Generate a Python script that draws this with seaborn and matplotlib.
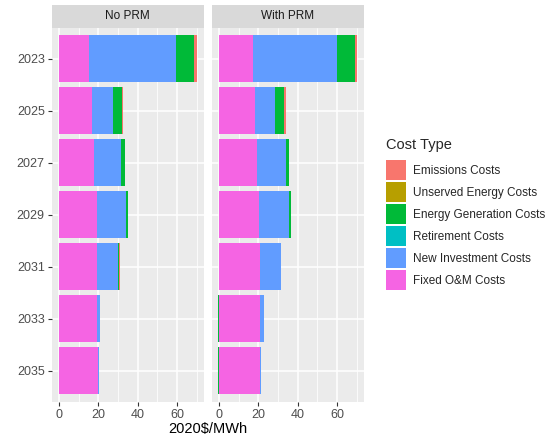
import numpy as np
import pandas as pd
import matplotlib
matplotlib.use("Agg")
import matplotlib.pyplot as plt
import seaborn as sns
from matplotlib.patches import Patch
from matplotlib.ticker import FixedLocator

years = ["2023", "2025", "2027", "2029", "2031", "2033", "2035"]
scenarios = ["No PRM", "With PRM"]
cost_types = ["Emissions Costs", "Unserved Energy Costs", "Energy Generation Costs",
              "Retirement Costs", "New Investment Costs", "Fixed O&M Costs"]
cost_colors = ["#F8766D", "#B79F00", "#00BA38", "#00BFC4", "#619CFF", "#F564E3"]

# No PRM
noprm_emissions = [1.4, 0.8, 0.4, 0.1, 0.05, 0.0, 0.0]
noprm_unserved = [0.0, 0.0, 0.0, 0.0, 0.0, 0.0, 0.0]
noprm_energy_gen = [9.3, 4.4, 1.6, 1.2, 0.7, 0.1, 0.05]
noprm_retirement = [0.0, 0.0, 0.0, 0.0, 0.0, 0.0, 0.0]
noprm_new_invest = [43.9, 10.9, 13.7, 14.8, 10.8, 1.3, 0.4]
noprm_fixed_om = [15.4, 16.6, 18.0, 19.2, 19.2, 19.5, 19.7]

# With PRM
prm_emissions = [1.2, 0.8, 0.2, 0.1, 0.0, 0.0, 0.0]
prm_unserved = [0.0, 0.0, 0.0, 0.0, 0.0, 0.0, 0.0]
prm_energy_gen = [9.0, 4.6, 1.6, 1.0, 0.2, -0.4, -0.4]
prm_retirement = [0.0, 0.0, 0.0, 0.0, 0.0, 0.0, 0.0]
prm_new_invest = [42.8, 10.5, 14.8, 15.0, 10.5, 2.2, 0.3]
prm_fixed_om = [17.3, 18.1, 19.1, 20.5, 20.8, 20.6, 20.8]

series = {
    "No PRM": [noprm_emissions, noprm_unserved, noprm_energy_gen,
               noprm_retirement, noprm_new_invest, noprm_fixed_om],
    "With PRM": [prm_emissions, prm_unserved, prm_energy_gen,
                 prm_retirement, prm_new_invest, prm_fixed_om],
}

rows = []
for sc in scenarios:
    for ct, vals in zip(cost_types, series[sc]):
        for y, v in zip(years, vals):
            rows.append({"scenario": sc, "year": y, "cost": ct, "value": v})
df = pd.DataFrame(rows)

sns.set_theme(style="darkgrid")
plt.rcParams["font.family"] = ["Liberation Sans", "DejaVu Sans"]

W, H = 545, 436
fig = plt.figure(figsize=(W / 100, H / 100), dpi=100)

panel_top, panel_bot = 27.7, 401.7
panels_x = [(51.7, 204.0), (211.7, 364.0)]
strip_top = 5.0

base_order = cost_types[::-1]  # stacking from zero outward
color_map = dict(zip(cost_types, cost_colors))

axes = []
for i, sc in enumerate(scenarios):
    x0, x1 = panels_x[i]
    ax = fig.add_axes([x0 / W, 1 - panel_bot / H, (x1 - x0) / W, (panel_bot - panel_top) / H])
    axes.append(ax)
    ax.set_facecolor("#EBEBEB")
    d = df[df.scenario == sc]
    piv = d.pivot(index="year", columns="cost", values="value").loc[years]
    pos = piv.clip(lower=0)[base_order].cumsum(axis=1)
    neg = piv.clip(upper=0)[base_order].cumsum(axis=1)
    # draw outermost first so inner segments overlay
    for ct in cost_types:
        dd = pd.DataFrame({"year": years, "end": pos[ct].values})
        sns.barplot(data=dd, x="end", y="year", order=years, orient="h",
                    color=color_map[ct], saturation=1, width=0.9,
                    errorbar=None, linewidth=0, ax=ax)
    for ct in cost_types:
        if (piv[ct] < 0).any():
            dd = pd.DataFrame({"year": years, "end": neg[ct].values})
            sns.barplot(data=dd, x="end", y="year", order=years, orient="h",
                        color=color_map[ct], saturation=1, width=0.9,
                        errorbar=None, linewidth=0, ax=ax)
    ax.set_xlim(-3.8, 73.8)
    ax.set_ylim(6.6, -0.6)
    ax.set_xlabel("")
    ax.set_ylabel("")
    ax.set_axisbelow(True)
    ax.xaxis.set_major_locator(FixedLocator([0, 20, 40, 60]))
    ax.xaxis.set_minor_locator(FixedLocator([10, 30, 50, 70]))
    ax.grid(which="major", axis="both", color="white", linewidth=1.1)
    ax.grid(which="minor", axis="x", color="white", linewidth=0.55)
    for s in ax.spines.values():
        s.set_visible(False)
    ax.tick_params(axis="x", which="major", length=3, width=0.8, color="#333333",
                   labelsize=9, labelcolor="#4D4D4D", pad=2, bottom=True)
    ax.tick_params(axis="x", which="minor", length=0)
    if i == 0:
        ax.tick_params(axis="y", length=3, width=0.8, color="#333333",
                       labelsize=9, labelcolor="#4D4D4D", pad=2, left=True)
    else:
        ax.tick_params(axis="y", length=0, labelleft=False)
    # strip
    sax = fig.add_axes([x0 / W, 1 - panel_top / H, (x1 - x0) / W, (panel_top - strip_top) / H])
    sax.set_facecolor("#D9D9D9")
    sax.set_xticks([])
    sax.set_yticks([])
    for s in sax.spines.values():
        s.set_visible(False)
    sax.grid(False)
    sax.text(0.5, 0.5, sc, ha="center", va="center", fontsize=8.5, color="#1A1A1A",
             transform=sax.transAxes)

fig.text((51.7 + 364.0) / 2 / W, 1 - 429 / H, "2020\\$/MWh", ha="center", va="center",
         fontsize=10.5, color="black")

handles = [Patch(facecolor=c, edgecolor="none") for c in cost_colors]
leg = fig.legend(handles, cost_types, title="Cost Type", loc="upper left",
                 bbox_to_anchor=(386 / W, 1 - 138 / H), frameon=False,
                 fontsize=8.5, title_fontsize=10.5, handlelength=1.69, handleheight=2.23,
                 labelspacing=0.17, handletextpad=0.6, borderaxespad=0, borderpad=0,
                 alignment="left")
leg._legend_box.sep = 6

fig.savefig("out.png", dpi=100, facecolor="white")
